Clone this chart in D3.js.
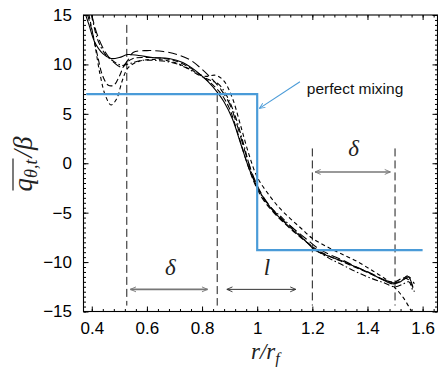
<!DOCTYPE html>
<html><head><meta charset="utf-8">
<script src="https://cdn.jsdelivr.net/npm/d3@7"></script>
<style>
html,body{margin:0;padding:0;background:#fff;}
svg{display:block;}
</style></head>
<body>
<svg id="chart" width="438" height="367"></svg>
<script>
// ---- data ----
const xTicks = [0.4, 0.6, 0.8, 1.0, 1.2, 1.4, 1.6];
const xTickLabels = ["0.4", "0.6", "0.8", "1", "1.2", "1.4", "1.6"];
const yTicks = [-15, -10, -5, 0, 5, 10, 15];
const yTickLabels = ["\u221215", "\u221210", "\u22125", "0", "5", "10", "15"];

const solidR   = [0.378,0.39,0.41,0.44,0.47,0.50,0.53,0.57,0.62,0.68,0.73,0.78,0.82,0.855,0.88,0.91,0.94,0.97,1.00,1.03,1.06,1.10,1.14,1.18,1.21,1.25,1.30,1.35,1.40,1.45,1.49,1.52,1.545,1.565];
const solidQ   = [15,14,12.3,11.1,10.6,10.7,11.0,10.9,10.7,10.6,10.2,9.3,8.3,7.2,6.2,4.5,2.0,-0.5,-2.4,-3.8,-4.9,-6.0,-7.0,-8.0,-8.8,-9.3,-9.8,-10.4,-11.0,-11.7,-12.2,-12.0,-11.4,-12.5];

const longDashR = [0.40,0.42,0.45,0.48,0.51,0.53,0.55,0.60,0.66,0.71,0.76,0.80,0.84,0.87,0.90,0.93,0.96,0.99,1.02,1.06,1.10,1.14,1.18,1.22,1.26,1.31,1.36,1.41,1.46,1.50,1.53,1.55,1.57];
const longDashQ = [15,13,11.2,10.2,9.7,10.4,11.2,11.4,11.3,11.0,10.4,9.5,8.4,7.4,6.0,3.6,0.8,-1.6,-3.3,-4.8,-5.9,-6.8,-7.7,-8.6,-9.2,-9.8,-10.5,-11.1,-11.8,-12.1,-11.8,-11.5,-12.2];

const dashR = [0.385,0.40,0.42,0.44,0.46,0.48,0.50,0.52,0.55,0.60,0.66,0.71,0.76,0.80,0.84,0.87,0.90,0.93,0.96,0.99,1.02,1.06,1.10,1.14,1.18,1.22,1.27,1.32,1.37,1.42,1.47,1.50,1.53,1.55,1.57];
const dashQ = [15,13.5,11,8.8,7.9,7.9,8.8,10.0,10.6,10.7,10.6,10.3,9.6,8.8,7.9,7.0,5.5,3.0,0.3,-2.0,-3.6,-5.0,-6.1,-7.1,-8.0,-8.8,-9.5,-10.1,-10.7,-11.3,-11.9,-12.0,-11.6,-11.8,-13.0];

const shortDashR = [0.39,0.41,0.43,0.45,0.47,0.49,0.51,0.53,0.56,0.61,0.67,0.72,0.77,0.81,0.85,0.88,0.91,0.94,0.97,1.00,1.04,1.08,1.12,1.16,1.20,1.25,1.30,1.36,1.42,1.47,1.50,1.53,1.56];
const shortDashQ = [15,12.2,9.0,6.8,5.9,6.5,8.3,9.6,10.2,10.5,10.4,10.0,9.3,8.8,8.9,8.3,6.6,3.8,0.9,-1.4,-3.1,-4.5,-5.6,-6.6,-7.6,-8.4,-9.1,-9.9,-10.9,-11.8,-12.6,-13.6,-15];

const dashDotR = [0.40,0.42,0.45,0.48,0.51,0.54,0.58,0.63,0.69,0.74,0.79,0.83,0.86,0.89,0.92,0.95,0.98,1.01,1.05,1.09,1.13,1.17,1.21,1.26,1.31,1.36,1.41,1.46,1.50,1.53,1.55,1.565];
const dashDotQ = [15,12.6,11.0,10.3,9.9,10.1,10.4,10.4,10.2,9.7,8.9,8.4,8.0,6.8,4.8,2.0,-1.0,-3.0,-4.5,-5.5,-6.6,-7.7,-8.7,-9.6,-10.3,-11.0,-11.6,-12.1,-12.5,-12.2,-12.0,-13.0];

const mixR = [0.38, 1.0, 1.0, 1.6];
const mixQ = [7, 7, -8.8, -8.8];

const markerR = [0.527, 0.855, 1.2, 1.5];
const markerTop = [14, 7, 1.5, 1.5];
const markerBottom = -14.4;

const spanLabels = ["\u03b4", "l", "\u03b4"];
const spanFrom = [0.54, 0.89, 1.21];
const spanTo = [0.82, 1.14, 1.483];
const spanArrowQ = [-12.76, -12.76, -0.88];
const spanLabelR = [0.685, 1.035, 1.35];
const spanLabelQ = [-11.3, -11.3, 0.7];

const annotText = "perfect mixing";
const annotFrom = [1.155, 8.24];
const annotTo = [1.008, 5.55];
const annotTextPos = [1.18, 7.05];

// ---- chart ----
const svg = d3.select("#chart");
const x = d3.scaleLinear().domain([0.37, 1.654]).range([83.5, 437.5]);
const y = d3.scaleLinear().domain([-15, 15]).range([311.5, 15]);
const W = x.range()[1] - x.range()[0], H = y.range()[0] - y.range()[1];

const defs = svg.append("defs");
defs.append("clipPath").attr("id","clip").append("rect")
  .attr("x", x.range()[0]).attr("y", y.range()[1]).attr("width", W).attr("height", H);
function mk(id, color){
  defs.append("marker").attr("id", id).attr("viewBox","0 0 10 10")
    .attr("refX", 9).attr("refY", 5).attr("markerWidth", 7).attr("markerHeight", 7)
    .attr("orient","auto-start-reverse").attr("markerUnits","userSpaceOnUse")
    .append("path").attr("d","M1,1.5 L9,5 L1,8.5").attr("fill","none")
    .attr("stroke", color).attr("stroke-width", 1.3);
}
mk("arrGray", "#777");
mk("arrDark", "#333");
mk("arrBlue", "#4a9bd8");

const tickFont = "'Liberation Sans', Arial, Helvetica, sans-serif";
const serif = "'Liberation Serif', 'Times New Roman', serif";

// minor ticks
const xMinor = d3.range(10, 42).map(i => i / 25);
const yMinor = d3.range(-30, 31).map(i => i / 2);
function styleAxis(g){ g.select(".domain").remove(); g.selectAll("line").attr("stroke","#000").attr("stroke-width",1); }

svg.append("g").attr("transform",`translate(0,${y.range()[0]})`)
  .call(d3.axisBottom(x).tickValues(xMinor).tickSize(-2.5).tickFormat("")).call(styleAxis);
svg.append("g").attr("transform",`translate(0,${y.range()[1]})`)
  .call(d3.axisTop(x).tickValues(xMinor).tickSize(-2.5).tickFormat("")).call(styleAxis);
svg.append("g").attr("transform",`translate(${x.range()[0]},0)`)
  .call(d3.axisLeft(y).tickValues(yMinor).tickSize(-2.5).tickFormat("")).call(styleAxis);
svg.append("g").attr("transform",`translate(${x.range()[1]},0)`)
  .call(d3.axisRight(y).tickValues(yMinor).tickSize(-2.5).tickFormat("")).call(styleAxis);

// major ticks
const gx = svg.append("g").attr("transform",`translate(0,${y.range()[0]})`)
  .call(d3.axisBottom(x).tickValues(xTicks).tickSize(-5).tickPadding(10)
    .tickFormat((d,i) => xTickLabels[i])).call(styleAxis);
gx.selectAll("text").attr("font-family", tickFont).attr("font-size", 17).attr("fill","#000");
svg.append("g").attr("transform",`translate(0,${y.range()[1]})`)
  .call(d3.axisTop(x).tickValues(xTicks).tickSize(-5).tickFormat("")).call(styleAxis);
const gy = svg.append("g").attr("transform",`translate(${x.range()[0]},0)`)
  .call(d3.axisLeft(y).tickValues(yTicks).tickSize(-5).tickPadding(11.5)
    .tickFormat((d,i) => yTickLabels[i])).call(styleAxis);
gy.selectAll("text").attr("font-family", tickFont).attr("font-size", 17).attr("fill","#000");
svg.append("g").attr("transform",`translate(${x.range()[1]},0)`)
  .call(d3.axisRight(y).tickValues(yTicks).tickSize(-5).tickFormat("")).call(styleAxis);

// frame
svg.append("rect").attr("x", x.range()[0]).attr("y", y.range()[1])
  .attr("width", W).attr("height", H).attr("fill","none").attr("stroke","#000").attr("stroke-width",1.1);

// vertical dashed markers
svg.append("g").selectAll("line").data(markerR).join("line")
  .attr("x1", d => x(d)).attr("x2", d => x(d))
  .attr("y1", (d,i) => y(markerTop[i])).attr("y2", y(markerBottom))
  .attr("stroke","#000").attr("stroke-width",0.9).attr("stroke-dasharray","8,4");

// curves
const line = d3.line().x(d => x(d[0])).y(d => y(d[1])).curve(d3.curveCatmullRom.alpha(0.5));
const series = [
  {r: solidR, q: solidQ, dash: null},
  {r: longDashR, q: longDashQ, dash: "9,4"},
  {r: dashR, q: dashQ, dash: "6,3"},
  {r: shortDashR, q: shortDashQ, dash: "4,3"},
  {r: dashDotR, q: dashDotQ, dash: "6,2.5,1.5,2.5"}
];
const gc = svg.append("g").attr("clip-path","url(#clip)");
series.forEach(s => {
  gc.append("path").datum(s.r.map((r,i) => [r, s.q[i]]))
    .attr("d", line).attr("fill","none").attr("stroke","#000").attr("stroke-width",1.1)
    .attr("stroke-dasharray", s.dash);
});

// perfect mixing line
gc.append("path").datum(mixR.map((r,i) => [r, mixQ[i]]))
  .attr("d", d3.line().x(d => x(d[0])).y(d => y(d[1])))
  .attr("fill","none").attr("stroke","#4a9bd8").attr("stroke-width",2.2);

// span arrows and labels
spanLabels.forEach((lab, i) => {
  const col = i === 1 ? "#333" : "#777";
  svg.append("line").attr("x1", x(spanFrom[i])).attr("x2", x(spanTo[i]))
    .attr("y1", y(spanArrowQ[i])).attr("y2", y(spanArrowQ[i]))
    .attr("stroke", col).attr("stroke-width", i === 1 ? 1 : 1.6)
    .attr("marker-start", `url(#${i===1?"arrDark":"arrGray"})`)
    .attr("marker-end", `url(#${i===1?"arrDark":"arrGray"})`);
  svg.append("text").attr("x", x(spanLabelR[i])).attr("y", y(spanLabelQ[i]))
    .attr("text-anchor","middle").attr("font-family", serif).attr("font-style","italic")
    .attr("font-size", 23).attr("fill","#222").text(lab);
});

// annotation
svg.append("line").attr("x1", x(annotFrom[0])).attr("y1", y(annotFrom[1]))
  .attr("x2", x(annotTo[0])).attr("y2", y(annotTo[1]))
  .attr("stroke","#4a9bd8").attr("stroke-width",1.1).attr("marker-end","url(#arrBlue)");
svg.append("text").attr("x", x(annotTextPos[0])).attr("y", y(annotTextPos[1]))
  .attr("font-family", tickFont).attr("font-size", 15.5).attr("fill","#111").text(annotText);

// axis labels
const xl = svg.append("text").attr("x", 251).attr("y", 359)
  .attr("font-family", serif).attr("font-style","italic").attr("font-size", 23).attr("fill","#222");
xl.append("tspan").text("r/r");
xl.append("tspan").attr("font-size", 16).attr("dy", 5).text("f");

const ylg = svg.append("g").attr("transform","translate(32,164) rotate(-90)");
const yl = ylg.append("text")
  .attr("text-anchor","middle").attr("font-family", serif).attr("font-style","italic")
  .attr("font-size", 27).attr("fill","#222");
yl.append("tspan").text("q");
yl.append("tspan").attr("font-size", 18).attr("dy", 5).text("\u03b8,t");
yl.append("tspan").attr("dy", -5).attr("dx", 2).text("/\u03b2");
// overline over q_{θ,t}
const tn = yl.node();
const s0 = tn.getStartPositionOfChar(0).x;
const e3 = tn.getEndPositionOfChar(3).x;
ylg.append("line").attr("x1", s0 + 1).attr("x2", e3 + 1).attr("y1", -19).attr("y2", -19)
  .attr("stroke","#222").attr("stroke-width", 1.2);
</script>
</body></html>
